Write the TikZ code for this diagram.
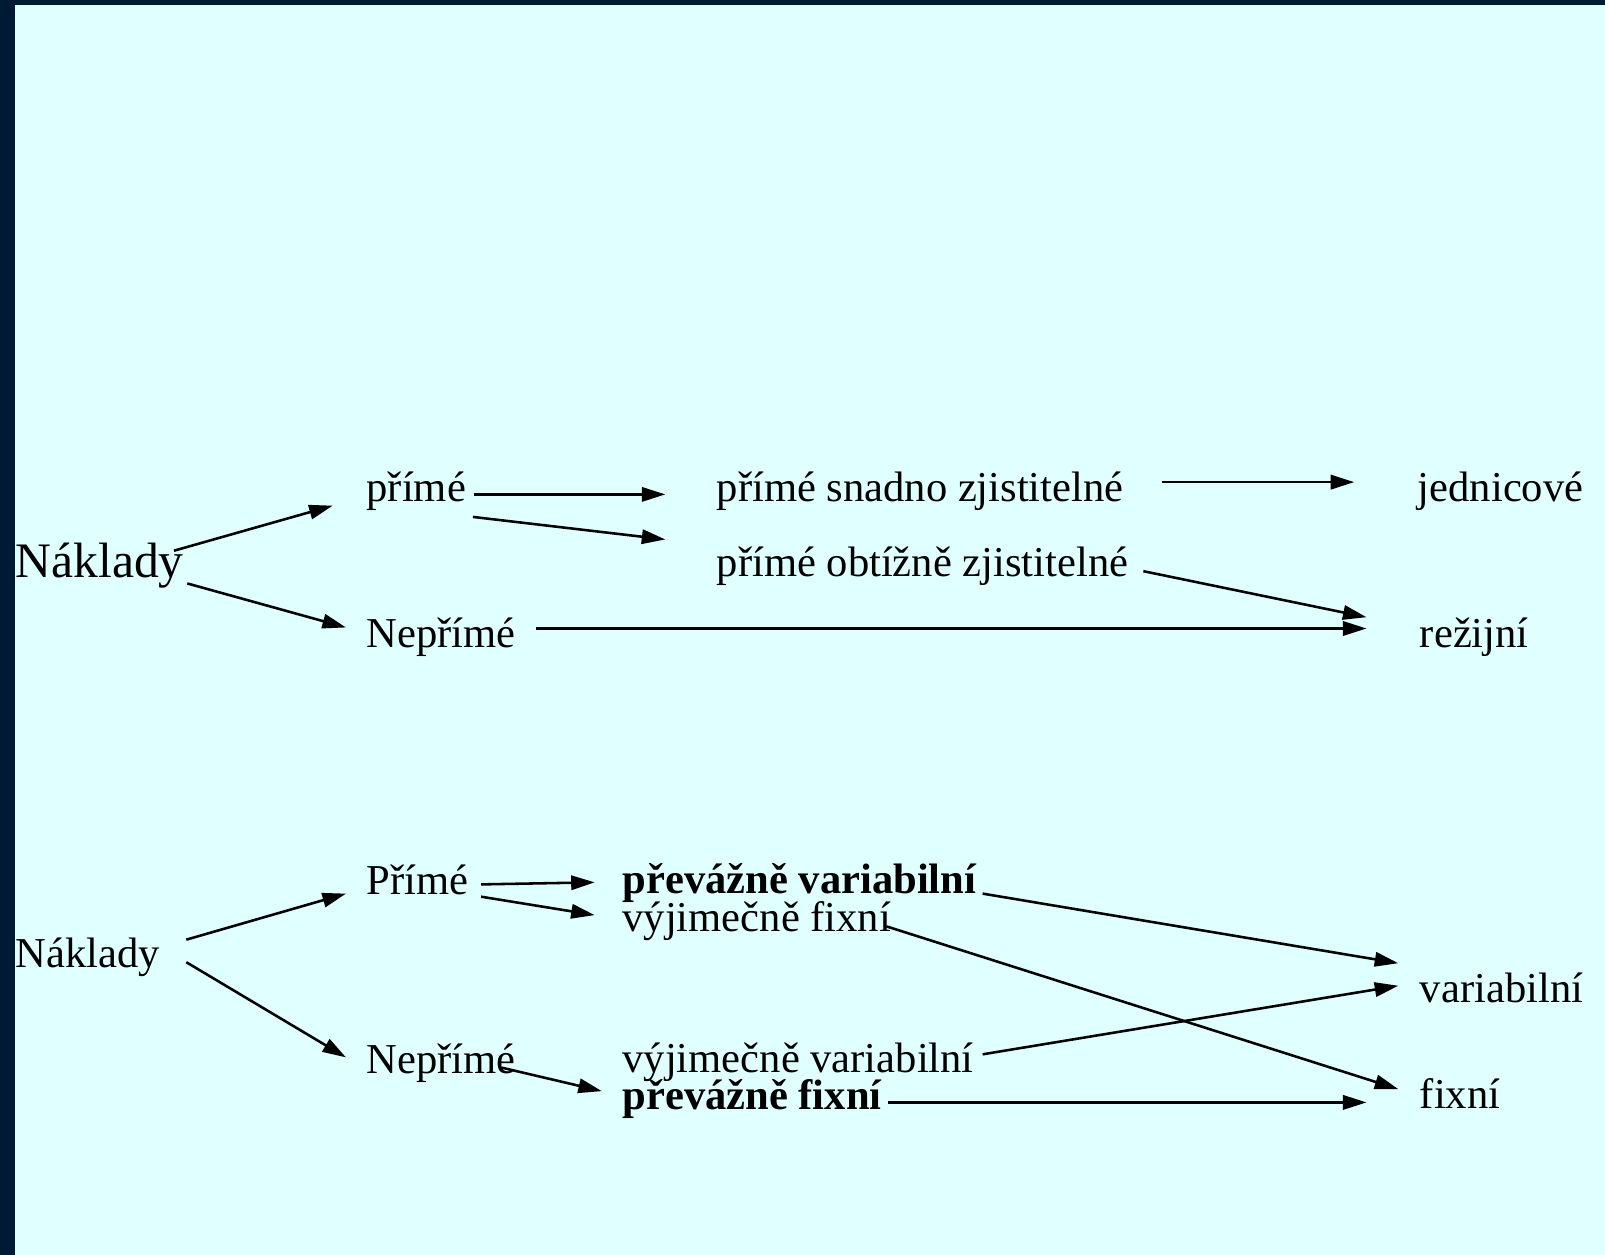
\documentclass[tikz,border=0pt]{standalone}
\usepackage{fontspec}
\setmainfont{Liberation Serif}
\usetikzlibrary{arrows.meta}
\definecolor{bgc}{HTML}{E0FFFF}
\definecolor{framec}{HTML}{001A33}
\tikzset{
  lbl/.style={anchor=base west, inner sep=0pt, font=\fontsize{41.6}{41.6}\selectfont},
  bl/.style={anchor=base west, inner sep=0pt, font=\fontsize{41.6}{41.6}\selectfont\bfseries},
  big/.style={anchor=base west, inner sep=0pt, font=\fontsize{48.5}{48.5}\selectfont},
  arr/.style={line width=2.5pt, -{Triangle[length=23pt,width=14pt]}}
}
\begin{document}
\begin{tikzpicture}[x=1pt,y=-1pt]
\fill[framec] (0,0) rectangle (1568,1226);
\fill[bgc] (14.6,4.9) rectangle (1568,1226);
\useasboundingbox (0,0) rectangle (1568,1226);
% top section
\node[big] (n1) at (15,564) {Náklady};
\node[lbl] (p1) at (358,490) {přímé};
\node[lbl] (np1) at (358,633) {Nepřímé};
\node[lbl] (psz) at (700,490) {přímé snadno zjistitelné};
\node[lbl] (poz) at (700,563) {přímé obtížně zjistitelné};
\node[lbl] (jed) at (1385,490) {jednicové};
\node[lbl] (rez) at (1387,633) {režijní};
\coordinate (n1a) at (170,538); \coordinate (p1in) at (325,494);
\coordinate (n1b) at (183,570); \coordinate (np1in) at (338,613);
\coordinate (p1a) at (463,483); \coordinate (psz-in) at (650,483);
\coordinate (p1b) at (462,505); \coordinate (poz-in) at (650,527);
\coordinate (psz-out) at (1135,471); \coordinate (jed-in) at (1323,471);
\coordinate (poz-out) at (1117,558); \coordinate (rez-in1) at (1335,603);
\coordinate (np1-out) at (524,614); \coordinate (rez-in2) at (1335,614);
\draw[arr] (n1a) -- (p1in);
\draw[arr] (n1b) -- (np1in);
\draw[arr] (p1a) -- (psz-in);
\draw[arr] (p1b) -- (poz-in);
\draw[arr] (psz-out) -- (jed-in);
\draw[arr] (poz-out) -- (rez-in1);
\draw[arr] (np1-out) -- (rez-in2);
% bottom section
\node[lbl] (n2) at (15,945) {Náklady};
\node[lbl] (p2) at (358,874) {Přímé};
\node[lbl] (np2) at (358,1049) {Nepřímé};
\node[bl] (pv) at (608,873) {převážně variabilní};
\node[lbl] (vf) at (608,910) {výjimečně fixní};
\node[lbl] (vv) at (608,1048) {výjimečně variabilní};
\node[bl] (pf) at (608,1084) {převážně fixní};
\node[lbl] (var) at (1387,979) {variabilní};
\node[lbl] (fix) at (1387,1083) {fixní};
\coordinate (n2a) at (182,918); \coordinate (p2in) at (338,873);
\coordinate (n2b) at (182,940); \coordinate (np2in) at (338,1033);
\coordinate (p2a) at (470,864); \coordinate (pv-in) at (581,862);
\coordinate (p2b) at (470,876); \coordinate (vf-in) at (581,894);
\coordinate (np2a) at (490,1043); \coordinate (pf-in) at (588,1066);
\coordinate (pv-out) at (960,873); \coordinate (var-in1) at (1366,941);
\coordinate (vf-out) at (866,905); \coordinate (fix-in1) at (1366,1064);
\coordinate (vv-out) at (960,1030); \coordinate (var-in2) at (1366,963);
\coordinate (pf-out) at (868,1077); \coordinate (fix-in2) at (1335,1077);
\draw[arr] (n2a) -- (p2in);
\draw[arr] (n2b) -- (np2in);
\draw[arr] (p2a) -- (pv-in);
\draw[arr] (p2b) -- (vf-in);
\draw[arr] (np2a) -- (pf-in);
\draw[arr] (pv-out) -- (var-in1);
\draw[arr] (vf-out) -- (fix-in1);
\draw[arr] (vv-out) -- (var-in2);
\draw[arr] (pf-out) -- (fix-in2);
\end{tikzpicture}
\end{document}
